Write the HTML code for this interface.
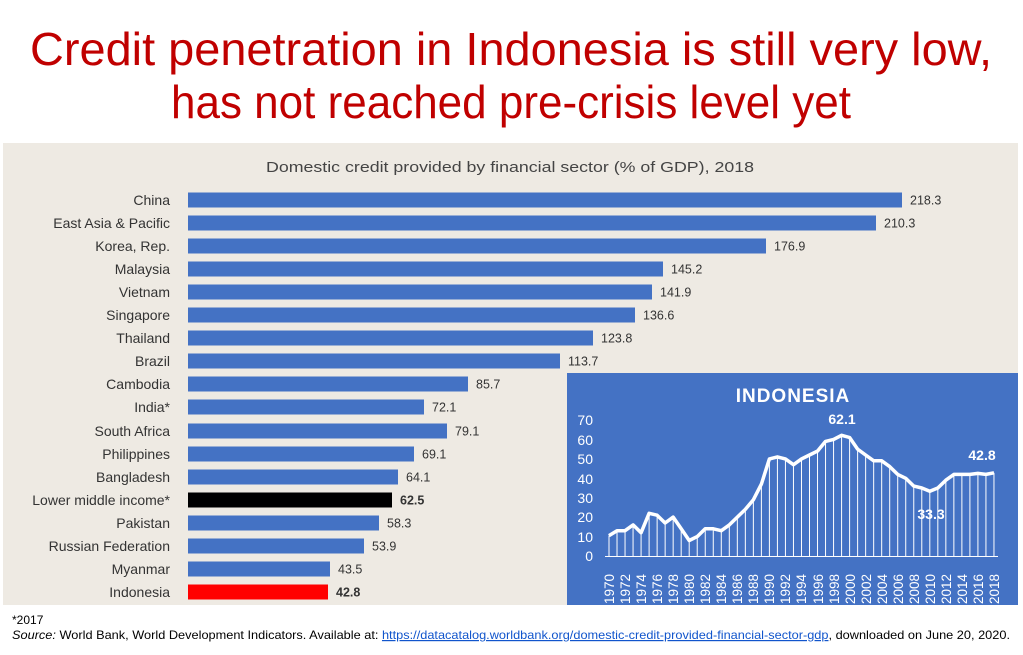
<!DOCTYPE html>
<html><head><meta charset="utf-8"><style>
html,body{margin:0;padding:0;background:#fff;}
svg{display:block;font-family:"Liberation Sans",sans-serif;}
</style></head><body>
<svg width="1023" height="655" viewBox="0 0 1023 655">
<rect width="1023" height="655" fill="#fff"/>
<text x="511" y="65" text-anchor="middle" font-size="46" fill="#c00000" textLength="962" lengthAdjust="spacingAndGlyphs">Credit penetration in Indonesia is still very low,</text>
<text x="511" y="118" text-anchor="middle" font-size="46" fill="#c00000" textLength="680" lengthAdjust="spacingAndGlyphs">has not reached pre-crisis level yet</text>
<rect x="3" y="143" width="1015" height="462" fill="#eeeae3"/>
<text x="510" y="172" text-anchor="middle" font-size="15" fill="#444" textLength="488" lengthAdjust="spacingAndGlyphs">Domestic credit provided by financial sector (% of GDP), 2018</text>
<g font-size="14" fill="#333" text-anchor="end">
<text x="170" y="205">China</text>
<text x="170" y="228">East Asia &amp; Pacific</text>
<text x="170" y="251">Korea, Rep.</text>
<text x="170" y="274">Malaysia</text>
<text x="170" y="297">Vietnam</text>
<text x="170" y="320">Singapore</text>
<text x="170" y="343">Thailand</text>
<text x="170" y="366">Brazil</text>
<text x="170" y="389">Cambodia</text>
<text x="170" y="412">India*</text>
<text x="170" y="436">South Africa</text>
<text x="170" y="459">Philippines</text>
<text x="170" y="482">Bangladesh</text>
<text x="170" y="505">Lower middle income*</text>
<text x="170" y="528">Pakistan</text>
<text x="170" y="551">Russian Federation</text>
<text x="170" y="574">Myanmar</text>
<text x="170" y="597">Indonesia</text>
</g>
<g fill="#4472c4">
<rect x="188" y="192.5" width="714" height="15"/>
<rect x="188" y="215.5" width="688" height="15"/>
<rect x="188" y="238.5" width="578" height="15"/>
<rect x="188" y="261.5" width="475" height="15"/>
<rect x="188" y="284.5" width="464" height="15"/>
<rect x="188" y="307.5" width="447" height="15"/>
<rect x="188" y="330.5" width="405" height="15"/>
<rect x="188" y="353.5" width="372" height="15"/>
<rect x="188" y="376.5" width="280" height="15"/>
<rect x="188" y="399.5" width="236" height="15"/>
<rect x="188" y="423.5" width="259" height="15"/>
<rect x="188" y="446.5" width="226" height="15"/>
<rect x="188" y="469.5" width="210" height="15"/>
<rect x="188" y="515.5" width="191" height="15"/>
<rect x="188" y="538.5" width="176" height="15"/>
<rect x="188" y="561.5" width="142" height="15"/>
</g>
<rect x="188" y="492.5" width="204" height="15" fill="#000"/>
<rect x="188" y="584.5" width="140" height="15" fill="#ff0000"/>
<g font-size="12.5" fill="#333">
<text x="910" y="204.5">218.3</text>
<text x="884" y="227.5">210.3</text>
<text x="774" y="250.5">176.9</text>
<text x="671" y="273.5">145.2</text>
<text x="660" y="296.5">141.9</text>
<text x="643" y="319.5">136.6</text>
<text x="601" y="342.5">123.8</text>
<text x="568" y="365.5">113.7</text>
<text x="476" y="388.5">85.7</text>
<text x="432" y="411.5">72.1</text>
<text x="455" y="435.5">79.1</text>
<text x="422" y="458.5">69.1</text>
<text x="406" y="481.5">64.1</text>
<text x="400" y="504.5" font-weight="bold">62.5</text>
<text x="387" y="527.5">58.3</text>
<text x="372" y="550.5">53.9</text>
<text x="338" y="573.5">43.5</text>
<text x="336" y="596.5" font-weight="bold">42.8</text>
</g>
<rect x="567" y="373" width="451" height="232" fill="#4472c4"/>
<text x="793" y="402" text-anchor="middle" font-size="19" font-weight="bold" fill="#fff" letter-spacing="1">INDONESIA</text>
<g font-size="14" fill="#fff" text-anchor="end">
<text x="593" y="561">0</text>
<text x="593" y="542">10</text>
<text x="593" y="522">20</text>
<text x="593" y="503">30</text>
<text x="593" y="484">40</text>
<text x="593" y="464">50</text>
<text x="593" y="445">60</text>
<text x="593" y="425">70</text>
</g>
<line x1="605" y1="556.5" x2="998" y2="556.5" stroke="#fff" stroke-width="1"/>
<g id="lines"></g>
<path id="ln" fill="none" stroke="#fff" stroke-width="3.5" stroke-linejoin="round"/>
<g font-size="14" font-weight="bold" fill="#fff" text-anchor="middle">
<text x="842" y="424">62.1</text>
<text x="931" y="519">33.3</text>
<text x="982" y="460">42.8</text>
</g>
<g font-size="13.5" fill="#fff">
<text transform="translate(614,604) rotate(-90)">1970</text>
<text transform="translate(630,604) rotate(-90)">1972</text>
<text transform="translate(646,604) rotate(-90)">1974</text>
<text transform="translate(662,604) rotate(-90)">1976</text>
<text transform="translate(678,604) rotate(-90)">1978</text>
<text transform="translate(694,604) rotate(-90)">1980</text>
<text transform="translate(710,604) rotate(-90)">1982</text>
<text transform="translate(726,604) rotate(-90)">1984</text>
<text transform="translate(742,604) rotate(-90)">1986</text>
<text transform="translate(758,604) rotate(-90)">1988</text>
<text transform="translate(774,604) rotate(-90)">1990</text>
<text transform="translate(790,604) rotate(-90)">1992</text>
<text transform="translate(806,604) rotate(-90)">1994</text>
<text transform="translate(823,604) rotate(-90)">1996</text>
<text transform="translate(839,604) rotate(-90)">1998</text>
<text transform="translate(855,604) rotate(-90)">2000</text>
<text transform="translate(871,604) rotate(-90)">2002</text>
<text transform="translate(887,604) rotate(-90)">2004</text>
<text transform="translate(903,604) rotate(-90)">2006</text>
<text transform="translate(919,604) rotate(-90)">2008</text>
<text transform="translate(935,604) rotate(-90)">2010</text>
<text transform="translate(951,604) rotate(-90)">2012</text>
<text transform="translate(967,604) rotate(-90)">2014</text>
<text transform="translate(983,604) rotate(-90)">2016</text>
<text transform="translate(999,604) rotate(-90)">2018</text>
</g>
<text x="12" y="624" font-size="12" fill="#000">*2017</text>
<text x="12" y="639" font-size="12" fill="#000" textLength="998" lengthAdjust="spacingAndGlyphs"><tspan font-style="italic">Source:</tspan> World Bank, World Development Indicators. Available at: <tspan fill="#1155cc" text-decoration="underline">https://datacatalog.worldbank.org/domestic-credit-provided-financial-sector-gdp</tspan>, downloaded on June 20, 2020.</text>
</svg>
<script>
var v=[10.5,13,13,16,12,22,21,17,20,14,8,10,14,14,13,16,20,24,29,37,50,51,50,47,50,52,54,59,60,62.1,61,55,52,49,49,46,42,40,36,35,33.3,35,39,42,42,42,42.5,42,42.8];
var d="",g="";
for(var i=0;i<v.length;i++){var x=609+8.02*i,y=556-1.943*v[i];d+=(i?"L":"M")+x.toFixed(1)+","+y.toFixed(1);
g+='<line x1="'+x+'" y1="'+y+'" x2="'+x+'" y2="556" stroke="#fff" stroke-width="1"/>';}
document.getElementById("ln").setAttribute("d",d);
document.getElementById("lines").innerHTML=g;
</script>
</body></html>
